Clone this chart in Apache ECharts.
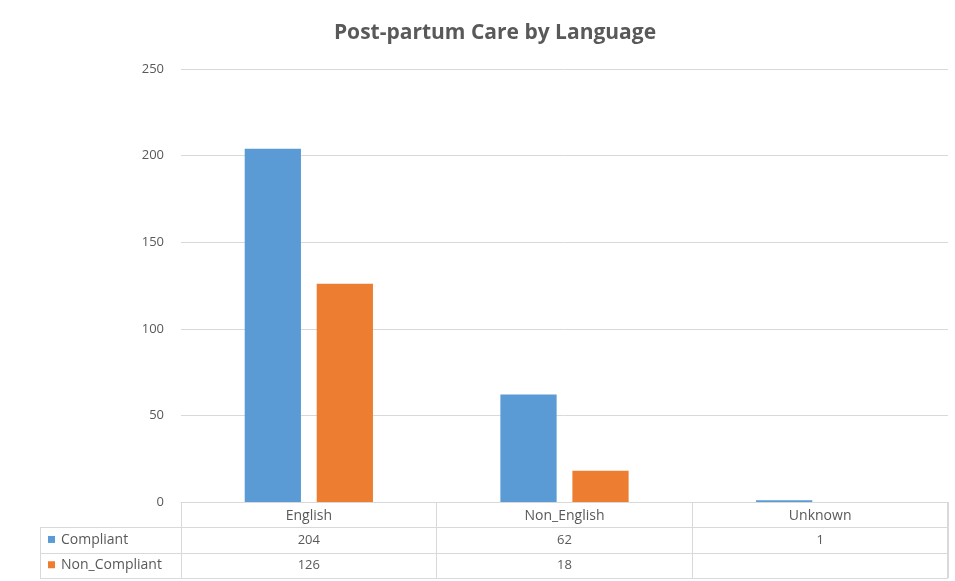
<!DOCTYPE html>
<html>
<head>
<meta charset="utf-8">
<script src="https://cdn.jsdelivr.net/npm/echarts@6/dist/echarts.min.js"></script>
<style>
  html, body { margin: 0; padding: 0; background: #fff; }
  #chart { width: 955px; height: 581px; }
</style>
</head>
<body>
<div id="chart"></div>
<script>
// Post-partum care counts by language group
const categories = ['English', 'Non_English', 'Unknown'];
const seriesNames = ['Compliant', 'Non_Compliant'];
const compliant = [204, 62, 1];
const nonCompliant = [126, 18, null];
const yTicks = [0, 50, 100, 150, 200, 250];

const colors = ['#5B9BD5', '#ED7D31'];
const FONT = '"Open Sans", "Liberation Sans", sans-serif';
const LINE = '#d9d9d9';
const TEXT = '#595959';

const chart = echarts.init(document.getElementById('chart'));

const gridLeft = 181, gridRight = 7, gridTop = 69, gridBottom = 79;

chart.setOption({
  animation: false,
  backgroundColor: '#fff',
  title: {
    text: 'Post-partum Care by Language',
    left: 490, top: 18, textAlign: 'center',
    textStyle: { fontFamily: FONT, fontSize: 21, fontWeight: 'bold', color: TEXT }
  },
  grid: { left: gridLeft, right: gridRight, top: gridTop, bottom: gridBottom },
  xAxis: {
    type: 'category',
    data: categories,
    axisLine: { show: true, lineStyle: { color: LINE, width: 1 } },
    axisTick: { show: true, alignWithLabel: false, interval: 0, length: 76, lineStyle: { color: LINE } },
    axisLabel: { color: TEXT, fontFamily: FONT, fontSize: 14, margin: 7 }
  },
  yAxis: {
    type: 'value',
    min: yTicks[0], max: yTicks[yTicks.length - 1], interval: 50,
    axisLine: { show: false }, axisTick: { show: false },
    axisLabel: { color: TEXT, fontFamily: FONT, fontSize: 13, margin: 17 },
    splitLine: { lineStyle: { color: LINE, width: 1 } }
  },
  series: [
    { name: seriesNames[0], type: 'bar', data: compliant, barWidth: '22%', barGap: '28%',
      itemStyle: { color: colors[0] } },
    { name: seriesNames[1], type: 'bar', data: nonCompliant, barWidth: '22%', barGap: '28%',
      itemStyle: { color: colors[1] } }
  ]
});

// Data table underneath the plot, aligned to the category axis
const W = 955;
const tableLeft = 40, tableRight = W - gridRight;
const axisY = chart.convertToPixel({ yAxisIndex: 0 }, 0);
const rowH = 25.3;
const rows = [compliant, nonCompliant];
const els = [];
const line = (x1, y1, x2, y2) => ({
  type: 'line', shape: { x1, y1, x2, y2 }, style: { stroke: LINE, lineWidth: 1 }, silent: true
});
const bottomY = Math.round(axisY + rowH * 3) + 0.5;
for (let r = 1; r <= 3; r++) {
  const y = Math.round(axisY + rowH * r) + 0.5;
  els.push(line(tableLeft, y, tableRight, y));
}
els.push(line(tableLeft + 0.5, Math.round(axisY + rowH), tableLeft + 0.5, bottomY));
els.push(line(gridLeft + 0.5, axisY, gridLeft + 0.5, bottomY));
els.push(line(tableRight - 0.5, axisY, tableRight - 0.5, bottomY));
rows.forEach((vals, r) => {
  const cy = axisY + rowH * (r + 1) + rowH / 2;
  els.push({ type: 'rect', shape: { x: 48, y: cy - 4, width: 7, height: 7 }, style: { fill: colors[r] }, silent: true });
  els.push({ type: 'text', style: { x: 61, y: cy, text: seriesNames[r], fill: TEXT,
    font: '14px ' + FONT, verticalAlign: 'middle', textAlign: 'left' }, silent: true });
  vals.forEach((v, c) => {
    if (v == null) return;
    const cx = chart.convertToPixel({ xAxisIndex: 0 }, categories[c]);
    els.push({ type: 'text', style: { x: cx, y: cy, text: String(v), fill: TEXT,
      font: '13px ' + FONT, verticalAlign: 'middle', textAlign: 'center' }, silent: true });
  });
});
chart.setOption({ graphic: els });
</script>
</body>
</html>
